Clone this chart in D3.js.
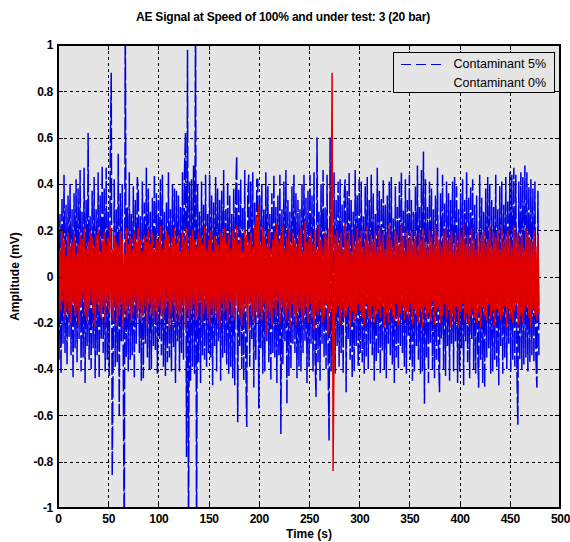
<!DOCTYPE html>
<html><head><meta charset="utf-8">
<script src="https://cdn.jsdelivr.net/npm/d3@7"></script>
<style>
body{margin:0;background:#fff}
svg{display:block}
text{font-family:"Liberation Sans",Arial,Helvetica,sans-serif;fill:#000}
</style>
</head><body>
<svg id="chart" width="570" height="542"></svg>
<script>
const chartTitle = "AE Signal at Speed of 100% and under test: 3 (20 bar)";
const xAxisLabel = "Time (s)";
const yAxisLabel = "Amplitude (mV)";
const xTicks = [0, 50, 100, 150, 200, 250, 300, 350, 400, 450, 500];
const yTicks = [-1, -0.8, -0.6, -0.4, -0.2, 0, 0.2, 0.4, 0.6, 0.8, 1];
const yTickLabels = ["-1", "-0.8", "-0.6", "-0.4", "-0.2", "0", "0.2", "0.4", "0.6", "0.8", "1"];
const seriesNames = ["Contaminant 5%", "Contaminant 0%"];
const sampleStepSec = 1;

// Contaminant 5% amplitude, hundredths of mV, one sample per second
const blueCenti = [
47,-36,27,-42,34,-29,44,-33,31,-38,35,-26,40,-34,29,-44,36,-31,42,-37,
38,-27,46,-41,28,-35,47,-46,33,-30,62,-36,26,-40,37,-31,43,-44,29,-34,
45,-44,35,-27,48,-33,38,-41,47,-36,28,-43,48,88,-86,-31,42,-39,29,-37,
53,-60,36,-28,40,-38,-120,120,-35,30,-41,45,-36,27,-34,39,-44,33,-29,43,
37,-33,26,-45,41,-44,32,-29,47,-35,38,-40,28,-40,34,-30,44,-32,36,-42,
33,-27,42,-34,44,-39,28,-43,32,-37,45,-35,29,-41,40,-31,38,-46,37,-28,
35,-41,30,-33,45,-36,46,62,-78,98,-120,41,-45,42,-39,48,-42,120,-120,40,
-37,28,-46,41,-34,31,-36,44,-39,27,-33,44,-35,35,-47,32,-30,43,-41,38,
-28,33,-45,37,-35,46,-33,29,-38,41,-42,35,-39,27,-44,38,-47,36,52,-63,
38,-30,42,-40,30,-45,46,-35,-65,35,44,-39,41,-27,45,-48,32,-36,42,42,
-57,35,-31,40,-42,29,-41,45,-28,39,-37,27,-45,36,-33,44,-35,30,-46,35,
-34,44,-68,29,-38,41,-28,46,-55,33,-43,28,-40,39,-29,44,-33,36,-44,33,
-39,29,-41,40,-33,44,-28,34,-46,37,-39,44,-29,35,-41,45,-34,-52,60,-37,
28,-45,40,-29,46,-35,30,-40,44,-36,-71,60,-41,29,-34,45,-42,33,-30,41,
-39,42,-33,31,-42,34,42,-50,37,-27,45,-36,33,-44,28,-41,46,-30,35,-39,
42,-33,41,-37,26,-42,39,-35,43,-40,33,-29,44,-34,36,-45,27,-37,47,-33,
37,-42,34,-32,42,-40,31,-44,35,-29,41,-34,43,-38,25,-46,39,-35,30,-40,
41,-30,45,-33,29,-39,42,-42,33,-26,44,-36,33,-45,28,-41,39,-30,48,-36,
30,-42,46,-41,54,-55,42,-35,30,-46,41,-29,38,-40,29,-44,35,-36,47,-34,
-50,36,-27,44,-40,32,-43,41,-30,36,-45,33,-29,41,-41,43,-28,39,-46,29,
-41,36,-31,42,-47,33,-28,45,-37,34,-44,39,-27,42,-40,31,-42,35,-32,-48,
44,-36,34,-46,28,-48,38,-35,43,-31,40,-42,33,-41,30,-36,44,-39,29,-47,
39,-30,41,-42,31,-35,43,-40,33,-29,45,-41,44,-36,47,-39,44,-37,-64,41,
-36,45,-40,43,-38,48,-35,45,-41,39,-37,42,-34,38,-37,41,-35,-48,37,-35
];

// Contaminant 0% amplitude, hundredths of mV, one sample per second
const redCenti = [
17,-19,12,-15,20,-11,16,-18,9,-14,19,-16,13,-20,15,-12,18,-17,10,-15,
14,-21,18,-13,16,-10,21,-17,12,-19,15,-14,19,-11,17,-16,13,-22,18,-12,
20,-15,11,-18,16,-13,19,-20,14,-11,17,-16,22,-14,12,-19,18,-13,15,-21,
13,-17,19,-12,16,-22,10,-15,21,-18,14,-13,17,-20,12,-16,19,-11,15,-18,
21,-14,16,-19,11,-17,18,-13,15,-21,20,-12,14,-16,19,-18,12,-15,17,-20,
15,-13,22,-17,12,-19,16,-14,20,-11,18,-23,13,-16,17,-12,21,-19,14,-15,
18,-20,11,-16,19,-13,15,-22,21,-14,12,-18,17,-15,20,-12,16,-19,13,-17,
19,-11,17,-20,14,-16,22,-13,12,-18,16,-21,20,-14,11,-17,18,-15,15,-19,
13,-22,19,-12,17,-16,21,-14,15,-20,18,-11,12,-17,20,-19,16,-13,22,-15,
14,-18,17,-21,11,-16,20,-13,18,-24,15,-12,19,-17,13,-20,22,-15,26,-18,
31,-16,14,-19,21,-12,17,-25,13,-15,20,-18,12,-21,16,-14,19,-17,23,-11,
15,-20,18,-13,22,-16,12,-19,17,-14,20,-22,14,-12,19,-17,16,-21,13,-15,
18,-14,21,-19,11,-16,24,-13,15,-20,17,-12,19,-18,14,-23,20,-15,12,-17,
22,-14,16,-20,13,-18,19,-12,17,-25,21,-15,14,88,-84,-28,18,-16,20,-13,
15,-21,19,-14,12,-18,23,-17,16,-13,20,-22,11,-15,18,-19,14,-16,21,-12,
17,-15,20,-18,13,-21,16,-12,22,-17,14,-19,18,-13,15,-20,19,-16,12,-14,
21,-18,15,-13,19,-22,12,-16,17,-20,23,-14,16,-17,13,-19,20,-12,18,-21,
14,-16,22,-13,17,-19,11,-15,20,-18,16,-12,19,-21,15,-14,18,-17,13,-20,
19,-14,16,-22,21,-13,15,-18,12,-16,20,-19,17,-11,14,-21,22,-15,18,-13,
16,-20,13,-17,19,-12,21,-18,15,-14,17,-22,20,-16,12,-19,18,-13,14,-21,
20,-15,17,-12,23,-19,14,-16,18,-21,13,-17,21,-14,16,-18,12,-20,19,-15,
15,-22,18,-13,20,-17,14,-19,16,-12,22,-18,13,-15,19,-21,17,-14,20,-16,
12,-19,21,-17,15,-13,18,-22,20,-14,16,-18,13,-20,22,-15,17,-12,19,-21,
14,-17,18,-20,12,-15,21,-13,19,-18,16,-22,15,-14,20,-17,13,-19,18,-16
];

const toPoints = arr => arr.map((v, i) => ({t: i * sampleStepSec, v: v / 100}));
const blueData = toPoints(blueCenti);
const redData = toPoints(redCenti);

const svg = d3.select("#chart");
const L = 58, R = 560, T = 45, B = 508;
const x = d3.scaleLinear().domain([0, 500]).range([L, R]);
const y = d3.scaleLinear().domain([-1, 1]).range([B, T]);
const bg = "#e5e5e5";
const blue = "#0000e6", red = "#e00000";

svg.append("rect").attr("x", L).attr("y", T).attr("width", R - L).attr("height", B - T).attr("fill", bg);

// grid
const grid = svg.append("g").attr("stroke", "#000").attr("stroke-width", 1).attr("stroke-dasharray", "3,3").attr("shape-rendering", "crispEdges");
grid.selectAll(".gx").data(xTicks.slice(1, -1)).join("line")
  .attr("x1", d => Math.round(x(d)) + 0.5).attr("x2", d => Math.round(x(d)) + 0.5).attr("y1", T).attr("y2", B);
grid.selectAll(".gy").data(yTicks.slice(1, -1)).join("line")
  .attr("y1", d => Math.round(y(d)) + 0.5).attr("y2", d => Math.round(y(d)) + 0.5).attr("x1", L).attr("x2", R);

// data
svg.append("clipPath").attr("id", "clip").append("rect").attr("x", L).attr("y", T).attr("width", R - L).attr("height", B - T);
const line = d3.line().x(d => x(d.t)).y(d => y(d.v));
const plot = svg.append("g").attr("clip-path", "url(#clip)");
plot.append("path").datum(blueData).attr("d", line).attr("fill", "none")
  .attr("stroke", blue).attr("stroke-width", 1.5).attr("stroke-dasharray", "22,3")
  .attr("stroke-linejoin", "bevel");
plot.append("path").datum(redData).attr("d", line).attr("fill", "none")
  .attr("stroke", red).attr("stroke-width", 1.5).attr("stroke-linejoin", "bevel");

// axes
const tickLen = 5;
const fmtY = d => yTickLabels[yTicks.indexOf(d)];
const axB = svg.append("g").attr("transform", `translate(0,${B})`)
  .call(d3.axisBottom(x).tickValues(xTicks).tickSize(-tickLen).tickPadding(6).tickFormat(d3.format("d")));
const axT = svg.append("g").attr("transform", `translate(0,${T})`)
  .call(d3.axisTop(x).tickValues(xTicks).tickSize(-tickLen).tickFormat(""));
const axL = svg.append("g").attr("transform", `translate(${L},0)`)
  .call(d3.axisLeft(y).tickValues(yTicks).tickSize(-tickLen).tickPadding(5).tickFormat(fmtY));
const axR = svg.append("g").attr("transform", `translate(${R},0)`)
  .call(d3.axisRight(y).tickValues(yTicks).tickSize(-tickLen).tickFormat(""));
[axB, axT, axL, axR].forEach(a => {
  a.select(".domain").remove();
  a.selectAll(".tick line").attr("stroke", "#000").attr("shape-rendering", "crispEdges");
  a.selectAll("text").attr("font-size", 12).style("font-weight", "bold").attr("letter-spacing", -0.3)
    .attr("font-family", "Liberation Sans, Arial, sans-serif").attr("fill", "#000");
});
svg.append("rect").attr("x", L).attr("y", T).attr("width", R - L).attr("height", B - T)
  .attr("fill", "none").attr("stroke", "#000").attr("stroke-width", 2).attr("shape-rendering", "crispEdges");

// labels
svg.append("text").attr("x", 283).attr("y", 21).attr("text-anchor", "middle").attr("font-size", 12)
  .style("font-weight", "bold").attr("letter-spacing", -0.2).text(chartTitle);
svg.append("text").attr("x", (L + R) / 2).attr("y", 538).attr("text-anchor", "middle").attr("font-size", 12)
  .style("font-weight", "bold").text(xAxisLabel);
svg.append("text").attr("transform", `translate(19,${(T + B) / 2}) rotate(-90)`).attr("text-anchor", "middle").attr("font-size", 12)
  .style("font-weight", "bold").text(yAxisLabel);

// legend
const lg = svg.append("g");
lg.append("rect").attr("x", 393.5).attr("y", 52.5).attr("width", 161).attr("height", 40)
  .attr("fill", bg).attr("stroke", "#000").attr("stroke-width", 1);
lg.append("line").attr("x1", 401).attr("x2", 446).attr("y1", 64.5).attr("y2", 64.5)
  .attr("stroke", blue).attr("stroke-width", 1).attr("stroke-dasharray", "10,5");
lg.append("text").attr("x", 546).attr("y", 68).attr("text-anchor", "end").attr("font-size", 12.5).style("font-weight", "normal").text(seriesNames[0]);
lg.append("text").attr("x", 546).attr("y", 87).attr("text-anchor", "end").attr("font-size", 12.5).style("font-weight", "normal").text(seriesNames[1]);
</script>
</body></html>
